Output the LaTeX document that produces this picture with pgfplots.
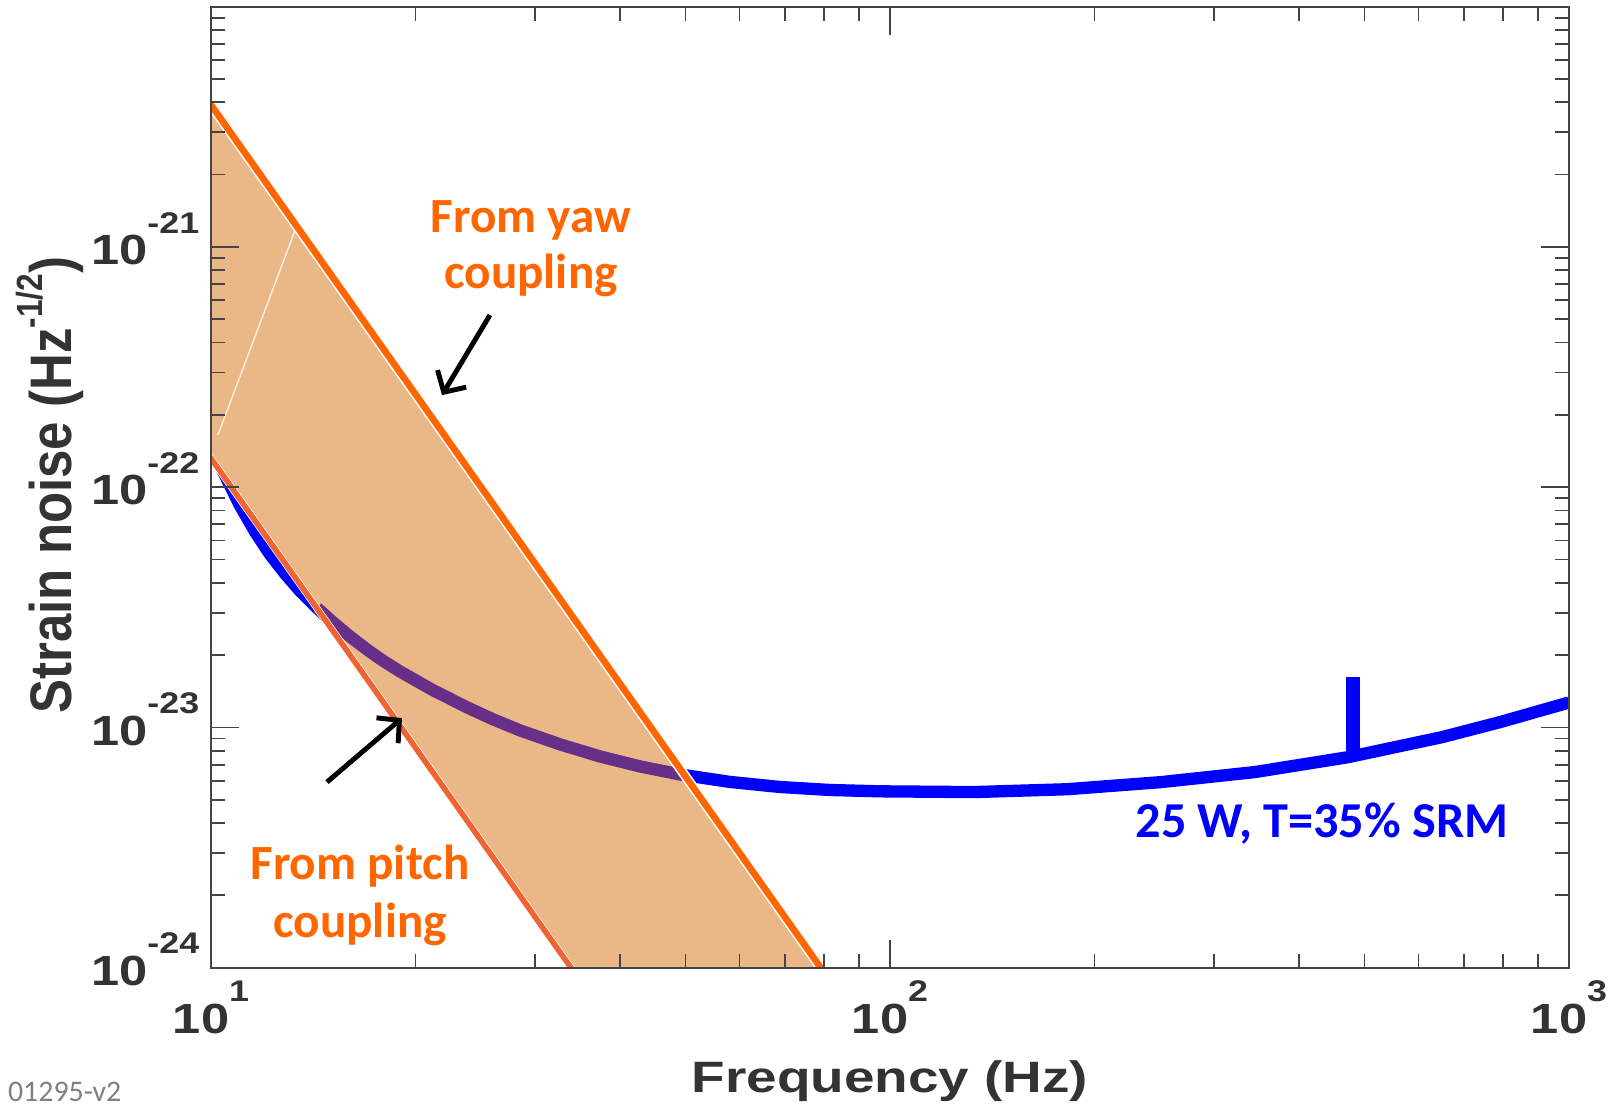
\documentclass[border=0pt]{standalone}
\usepackage{fontspec}
\setmainfont{Liberation Sans}
\newfontfamily\carlito{Carlito}
\usepackage{graphicx}
\usepackage{pgfplots}
\pgfplotsset{compat=1.18}
\usetikzlibrary{arrows.meta}

\definecolor{yaw}{RGB}{255,102,0}
\definecolor{pitch}{RGB}{240,100,50}
\definecolor{band}{RGB}{234,183,134}
\definecolor{ifo}{RGB}{0,0,255}
\definecolor{ifomix}{RGB}{102,48,136}
\definecolor{txt}{RGB}{51,51,51}
\definecolor{frame}{RGB}{68,68,68}

% tick label 10^n, stretched sideways like the original figure
\newcommand\tl[1]{\scalebox{1.2}[1]{\fontsize{12}{12}\selectfont\bfseries 10\raisebox{0.75em}[0pt][0pt]{\fontsize{8.5}{8.5}\selectfont#1}}}

% noise curve, 25 W, T=35% SRM
\pgfplotstableread{
f h
10.0 1.480e-22
10.49 1.119e-22
11.03 8.39e-23
11.61 6.53e-23
12.21 5.26e-23
12.85 4.37e-23
13.52 3.70e-23
14.33 3.14e-23
15.12 2.74e-23
16.02 2.39e-23
16.97 2.11e-23
17.92 1.895e-23
18.98 1.710e-23
21.23 1.429e-23
23.83 1.212e-23
26.02 1.081e-23
28.51 9.72e-24
32.66 8.50e-24
37.41 7.57e-24
42.83 6.88e-24
49.06 6.37e-24
58.14 5.93e-24
68.87 5.65e-24
81.6 5.49e-24
96.67 5.42e-24
132.9 5.38e-24
182.3 5.53e-24
250.7 5.92e-24
344.8 6.52e-24
472.7 7.52e-24
650.1 9.11e-24
791.4 1.052e-23
1000 1.27e-23
}\ifotable

% part of the curve lying inside the band
\pgfplotstableread{
f h
14.33 3.14e-23
15.12 2.74e-23
16.02 2.39e-23
16.97 2.11e-23
17.92 1.895e-23
18.98 1.710e-23
21.23 1.429e-23
23.83 1.212e-23
26.02 1.081e-23
28.51 9.72e-24
32.66 8.50e-24
37.41 7.57e-24
42.83 6.88e-24
49.06 6.37e-24
49.8 6.33e-24
}\mixtable

\begin{document}
\begin{tikzpicture}
\begin{axis}[
    scale only axis,
    width=135.8mm, height=96.1mm,
    xmode=log, ymode=log,
    log basis x=10, log basis y=10,
    xmin=10, xmax=1000, ymin=1e-24, ymax=1e-20,
    axis on top,
    clip mode=individual,
    axis line style={draw=frame, line width=0.6pt},
    tick align=inside,
    major tick length=2.8mm, minor tick length=1.4mm,
    tick style={draw=frame, line width=0.5pt},
    xticklabel={\pgfmathtruncatemacro\e{round(\tick)}\tl{\e}},
    yticklabel={\pgfmathtruncatemacro\e{round(\tick)}\ifnum\e=-20\else\tl{\e}\fi},
    xticklabel style={anchor=north, inner sep=0pt, yshift=-3.54mm, text=txt},
    yticklabel style={anchor=east, inner sep=0pt, xshift=-1.1mm, yshift=-0.33mm, text=txt},
    xlabel={\scalebox{1.25}[1]{\fontsize{12.5}{12.5}\selectfont\bfseries Frequency (Hz)}},
    xlabel style={at={(axis description cs:0.5,-0.1295)}, anchor=base, inner sep=0pt, text=txt},
    ylabel={\scalebox{1}[1.15]{\fontsize{14.5}{14.5}\selectfont\bfseries Strain noise (Hz\raisebox{0.5em}{\fontsize{9}{9}\selectfont -1/2})}},
    ylabel style={at={(axis description cs:-0.1024,0.502)}, anchor=base, inner sep=0pt, text=txt},
]
% interferometer noise
\addplot[ifo, line width=3.5pt, line join=round] table[x=f, y=h] {\ifotable};

% band between pitch and yaw coupling
\addplot[fill=band, draw=none] coordinates {(10,3.9e-21) (78.85,1e-24) (34.02,1e-24) (10,1.32e-22)} -- cycle;

\addplot[ifomix, line width=3.5pt, line join=round] table[x=f, y=h] {\mixtable};

\addplot[white, line width=0.4pt, opacity=0.8] coordinates {(10.24,1.65e-22) (13.34,1.2e-21)};

% yaw and pitch coupling lines
\addplot[white, line width=2.0pt] coordinates {(9.8,1.43e-22) (36,7.86e-25)};
\addplot[pitch, line width=1.6pt] coordinates {(9.8,1.43e-22) (36,7.86e-25)};
\addplot[white, line width=2.8pt] coordinates {(9.8,4.23e-21) (82,8.63e-25)};
\addplot[yaw, line width=1.9pt] coordinates {(9.8,4.23e-21) (82,8.63e-25)};

% line near 480 Hz
\addplot[ifo, line width=4pt] coordinates {(481,7.5e-24) (481,1.62e-23)};

\node[anchor=base, text=yaw, font=\carlito\bfseries\fontsize{14}{14}\selectfont] at (rel axis cs:0.2356,0.7655) {From yaw};
\node[anchor=base, text=yaw, font=\carlito\bfseries\fontsize{14}{14}\selectfont] at (rel axis cs:0.2356,0.7072) {coupling};
\node[anchor=base, text=yaw, font=\carlito\bfseries\fontsize{14}{14}\selectfont] at (rel axis cs:0.1097,0.0922) {From pitch};
\node[anchor=base, text=yaw, font=\carlito\bfseries\fontsize{14}{14}\selectfont] at (rel axis cs:0.1097,0.0318) {coupling};
\node[anchor=base, text=ifo, font=\carlito\bfseries\fontsize{14.3}{14.3}\selectfont] at (rel axis cs:0.8181,0.1359) {25 W, T=35\% SRM};

\draw[black, line width=1.4pt, -{Straight Barb[length=4.5pt,width=9.5pt]}] (rel axis cs:0.2054,0.6791) -- (rel axis cs:0.1701,0.5958);
\draw[black, line width=1.4pt, -{Straight Barb[length=4.5pt,width=9.5pt]}] (rel axis cs:0.0854,0.1931) -- (rel axis cs:0.1406,0.2597);
\end{axis}
\node[anchor=south east, inner sep=0pt, text=gray, font=\carlito\fontsize{8.5}{8.5}\selectfont] at (-8.9mm,-13.5mm) {01295-v2};
\pgfresetboundingbox
\path[use as bounding box] (-21.1mm,-13.64mm) rectangle (140.3mm,96.76mm);
\end{tikzpicture}
\end{document}
